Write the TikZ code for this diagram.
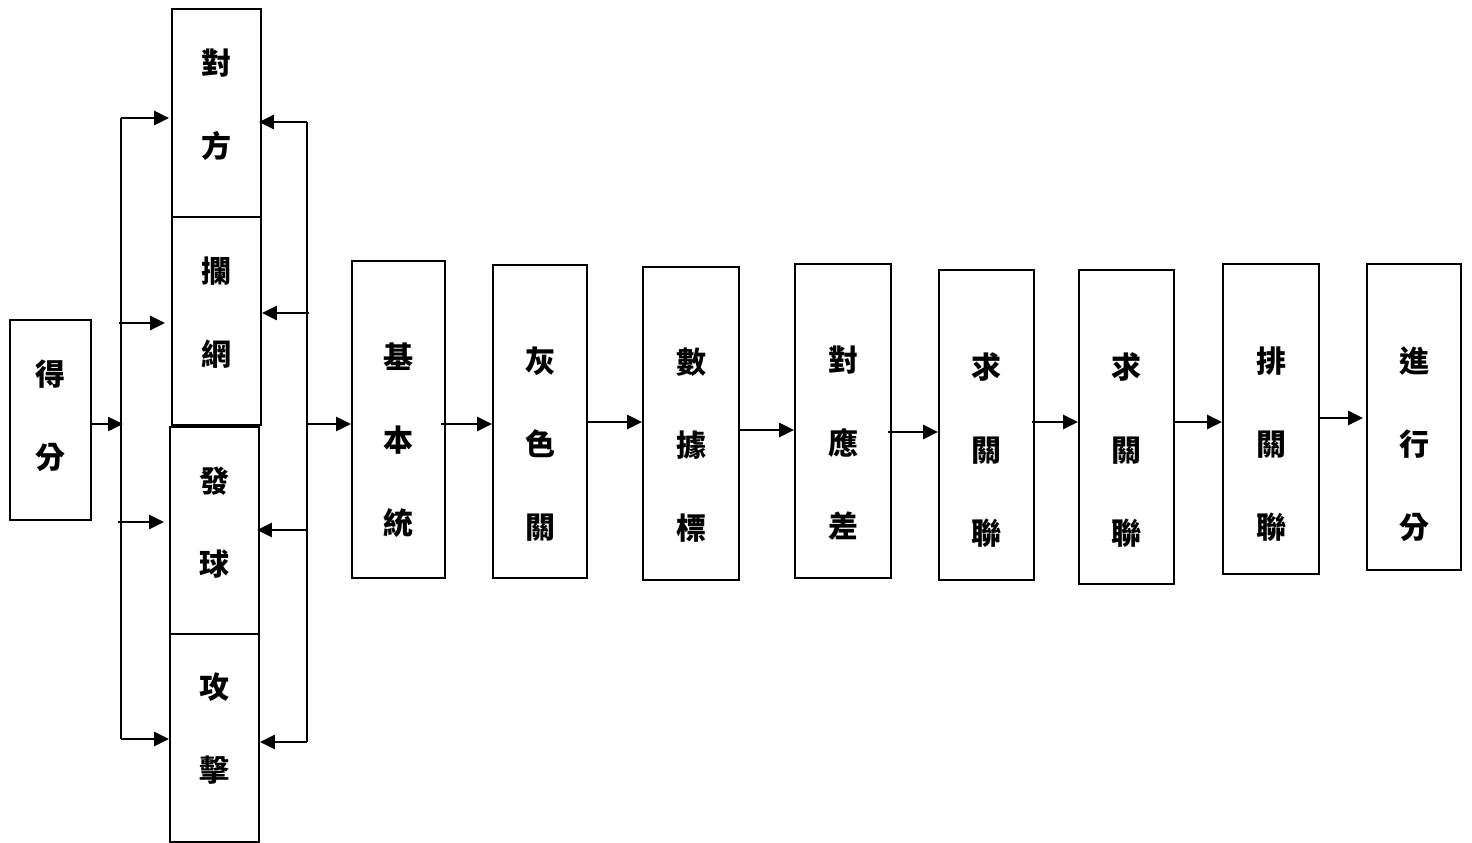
\documentclass[tikz,border=0pt]{standalone}
\usepackage{fontspec}
\newfontfamily\cjk{Noto Sans CJK TC}
\usetikzlibrary{arrows.meta}
\tikzset{
  boxst/.style={draw, line width=1.8pt, rectangle, inner sep=0pt},
  txt/.style={inner sep=0pt, align=center, font=\cjk\bfseries\fontsize{30}{83}\selectfont},
  ln/.style={line width=2.5pt},
  arr/.style={line width=2.5pt, -{Triangle[length=15pt,width=14pt]}}
}
\begin{document}
\begin{tikzpicture}[x=1pt,y=-1pt]
\useasboundingbox (0,0) rectangle (1472,843);
% boxes
\node[boxst, minimum width=81pt, minimum height=200pt] (s) at (50.5,420) {};
\node[boxst, minimum width=89pt, minimum height=208pt] (a) at (216.5,113) {};
\node[boxst, minimum width=89pt, minimum height=208pt] (b) at (216.5,321) {};
\node[boxst, minimum width=89pt, minimum height=207pt] (c) at (214.5,530.5) {};
\node[boxst, minimum width=89pt, minimum height=208pt] (d) at (214.5,738) {};
\node[boxst, minimum width=93pt, minimum height=317pt] (b1) at (398.5,419.5) {};
\node[boxst, minimum width=94pt, minimum height=313pt] (b2) at (540,421.5) {};
\node[boxst, minimum width=96pt, minimum height=313pt] (b3) at (691,423.5) {};
\node[boxst, minimum width=96pt, minimum height=314pt] (b4) at (843,421) {};
\node[boxst, minimum width=95pt, minimum height=310pt] (b5) at (986.5,425) {};
\node[boxst, minimum width=95pt, minimum height=314pt] (b6) at (1126.5,427) {};
\node[boxst, minimum width=96pt, minimum height=310pt] (b7) at (1271,419) {};
\node[boxst, minimum width=94pt, minimum height=306pt] (b8) at (1414,417) {};
% texts
\node[txt] (ts) at (50.5,416) {得\\分};
\node[txt] (ta) at (216.5,104.5) {對\\方};
\node[txt] (tb) at (216.5,313) {攔\\網};
\node[txt] (tc) at (214.5,522.5) {發\\球};
\node[txt] (td) at (214.5,729) {攻\\擊};
\node[txt] (t1) at (398.5,440) {基\\本\\統};
\node[txt] (t2) at (540,444) {灰\\色\\關};
\node[txt] (t3) at (691,445) {數\\據\\標};
\node[txt] (t4) at (843,443) {對\\應\\差};
\node[txt] (t5) at (986.5,450) {求\\關\\聯};
\node[txt] (t6) at (1126.5,450) {求\\關\\聯};
\node[txt] (t7) at (1271,444) {排\\關\\聯};
\node[txt] (t8) at (1414,444) {進\\行\\分};
% left distribution
\coordinate (L0) at (123,424);
\coordinate (L1) at (121,118);
\coordinate (L2) at (119,323);
\coordinate (L3) at (118,522);
\coordinate (L4) at (121,739);
\draw[arr] (s.east |- L0) -- (L0);
\draw[ln] (L1) -- (L1 |- L4);
\draw[arr] (L1) -- ([xshift=-2pt]a.west |- L1);
\draw[arr] (L2) -- ([xshift=-6pt]b.west |- L2);
\draw[arr] (L3) -- ([xshift=-5pt]c.west |- L3);
\draw[arr] (L1 |- L4) -- (d.west |- L4);
% right collection
\coordinate (R1) at (307,122);
\coordinate (R2) at (309,313);
\coordinate (R3) at (307,530);
\coordinate (R4) at (307,742);
\coordinate (R0) at (307,424);
\draw[ln] (R1) -- (R4);
\draw[arr] (R1) -- ([xshift=-3pt]a.east |- R1);
\draw[arr] (R2) -- (b.east |- R2);
\draw[arr] (R3) -- ([xshift=-3pt]c.east |- R3);
\draw[arr] (R4) -- (d.east |- R4);
\draw[arr] (R0) -- (b1.west |- R0);
% chain
\coordinate (y1) at (0,424);
\coordinate (y2) at (0,422);
\coordinate (y3) at (0,430);
\coordinate (y4) at (0,432);
\coordinate (y5) at (0,422);
\coordinate (y6) at (0,422);
\coordinate (y7) at (0,418);
\draw[arr] ([xshift=-5pt]b1.east |- y1) -- (b2.west |- y1);
\draw[arr] (b2.east |- y2) -- (b3.west |- y2);
\draw[arr] (b3.east |- y3) -- (b4.west |- y3);
\draw[arr] ([xshift=-4pt]b4.east |- y4) -- (b5.west |- y4);
\draw[arr] ([xshift=-3pt]b5.east |- y5) -- (b6.west |- y5);
\draw[arr] (b6.east |- y6) -- (b7.west |- y6);
\draw[arr] (b7.east |- y7) -- ([xshift=-3pt]b8.west |- y7);
\end{tikzpicture}
\end{document}
